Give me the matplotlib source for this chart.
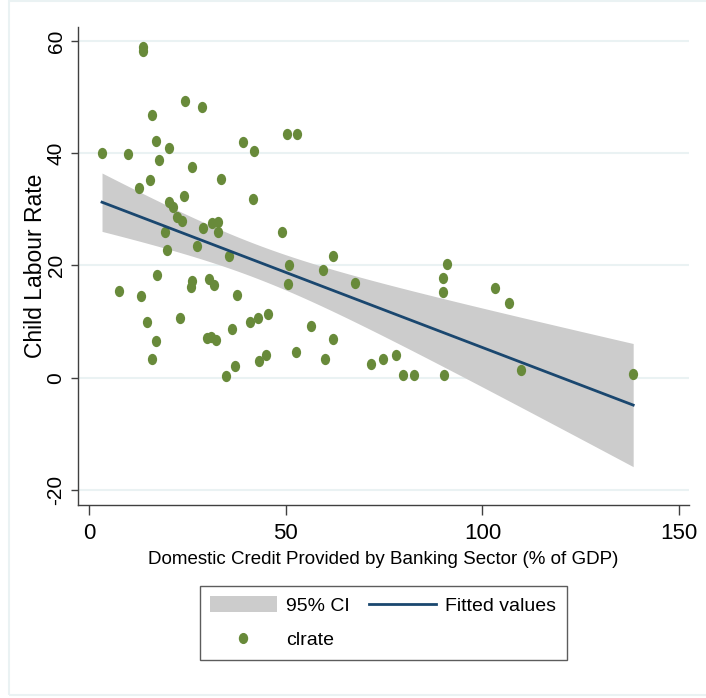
import matplotlib
matplotlib.use("Agg")
import matplotlib.pyplot as plt
import numpy as np
from matplotlib.path import Path
from matplotlib.patches import Patch, Rectangle
from matplotlib.lines import Line2D

# domestic credit (% of GDP) and child labour rate
credit = [13.6, 13.6, 24.3, 28.8, 16.0, 17.0, 20.4, 3.3, 10.0, 17.7,
          39.1, 42.0, 50.3, 52.9, 26.2, 33.6, 15.5, 12.8, 24.1, 41.6,
          20.4, 21.3, 22.3, 23.6, 31.2, 32.9, 29.0, 32.7, 19.4, 49.1,
          19.9, 27.4, 35.7, 50.8, 50.5, 17.2, 26.1, 26.0, 30.6, 31.8,
          7.6, 13.1, 37.6, 14.8, 23.2, 45.5, 42.9, 40.9, 36.4, 56.3,
          17.1, 30.0, 31.0, 32.3, 16.0, 52.6, 45.1, 43.1, 37.2, 34.7,
          61.9, 59.5, 67.7, 91.1, 89.9, 90.0, 103.3, 106.8, 61.9, 60.1,
          71.7, 74.7, 77.9, 79.8, 82.7, 90.1, 109.9, 138.3]
clrate = [59.0, 58.2, 49.4, 48.2, 46.8, 42.1, 40.9, 40.1, 39.9, 38.8,
          42.0, 40.4, 43.4, 43.4, 37.6, 35.4, 35.2, 33.8, 32.4, 31.8,
          31.3, 30.5, 28.7, 27.9, 27.6, 27.8, 26.7, 26.0, 26.0, 25.9,
          22.7, 23.5, 21.7, 20.0, 16.7, 18.3, 17.2, 16.1, 17.5, 16.5,
          15.4, 14.6, 14.8, 9.9, 10.7, 11.4, 10.7, 9.9, 8.6, 9.2,
          6.5, 7.0, 7.2, 6.8, 3.3, 4.6, 4.1, 2.9, 2.0, 0.3,
          21.6, 19.1, 16.9, 20.3, 17.8, 15.2, 16.0, 13.3, 6.9, 3.3,
          2.4, 3.4, 4.1, 0.4, 0.4, 0.5, 1.4, 0.6]

x_ticks = [0, 50, 100, 150]
y_ticks = [-20, 0, 20, 40, 60]

GREEN = "#688a3a"
NAVY = "#1a476f"
CI_GRAY = "#cccccc"
GRID = "#eaf2f3"

font = ["Liberation Sans", "DejaVu Sans"]
plt.rcParams["axes.unicode_minus"] = False

# linear fit with 95% CI of the mean prediction
x = np.array(credit)
y = np.array(clrate)
n = len(x)
slope, intercept = np.polyfit(x, y, 1)
resid = y - (intercept + slope * x)
s = np.sqrt(np.sum(resid ** 2) / (n - 2))
sxx = np.sum((x - x.mean()) ** 2)
t_crit = 1.99
xs = np.linspace(x.min(), x.max(), 200)
fit = intercept + slope * xs
half = t_crit * s * np.sqrt(1 / n + (xs - x.mean()) ** 2 / sxx)

fig = plt.figure(figsize=(7.06, 6.98), dpi=100)
ax = fig.add_axes([0.1105, 0.2765, 0.8655, 0.6848])

ax.fill_between(xs, fit - half, fit + half, color=CI_GRAY, linewidth=0, zorder=2)
ax.plot(xs, fit, color=NAVY, linewidth=2, zorder=4)

circ = Path.unit_circle()
ellipse = Path(circ.vertices * np.array([1.0, 1.22]), circ.codes)
ax.scatter(x, y, marker=ellipse, s=66, color=GREEN, linewidths=0, zorder=3)

ax.set_xlim(-2.8, 152.5)
ax.set_ylim(-22.7, 62.5)
ax.set_xticks(x_ticks)
ax.set_yticks(y_ticks)
ax.grid(axis="y", color=GRID, linewidth=1.5, zorder=0)
ax.set_axisbelow(True)

for side in ["top", "right"]:
    ax.spines[side].set_visible(False)
for side in ["left", "bottom"]:
    ax.spines[side].set_color("#404040")
    ax.spines[side].set_linewidth(1.0)

ax.tick_params(axis="both", direction="out", color="#404040", width=1.0)
ax.tick_params(axis="x", length=7, pad=6)
ax.tick_params(axis="y", length=5, pad=4)
for lab in ax.get_xticklabels():
    lab.set_fontfamily(font)
    lab.set_fontsize(16)
for lab in ax.get_yticklabels():
    lab.set_fontfamily(font)
    lab.set_fontsize(15)
    lab.set_rotation(90)
    lab.set_va("center")

ax.set_xlabel("Domestic Credit Provided by Banking Sector (% of GDP)",
              family=font, fontsize=13.5, labelpad=5)
ax.set_ylabel("Child Labour Rate", family=font, fontsize=16.5)
ax.yaxis.set_label_coords(-0.051, 0.5)

handles = [Patch(facecolor=CI_GRAY, edgecolor="none"),
           Line2D([], [], marker=ellipse, linestyle="none", color=GREEN,
                  markersize=7),
           Line2D([], [], color=NAVY, linewidth=2)]
labels = ["95% CI", "clrate", "Fitted values"]
fig.legend(handles, labels, loc="center", bbox_to_anchor=(0.543, 0.108),
           ncol=2, frameon=True, fancybox=False, edgecolor="#333333",
           prop={"family": font, "size": 14}, handlelength=3.4,
           handleheight=0.9, handletextpad=0.5, columnspacing=1.0,
           labelspacing=0.78, borderpad=0.55)

fig.patches.append(Rectangle((9 / 706, 3 / 698), 1, 1 - 4 / 698,
                             transform=fig.transFigure, fill=False,
                             edgecolor=GRID, linewidth=1.5))

fig.savefig("out.png", dpi=100, facecolor="white")
